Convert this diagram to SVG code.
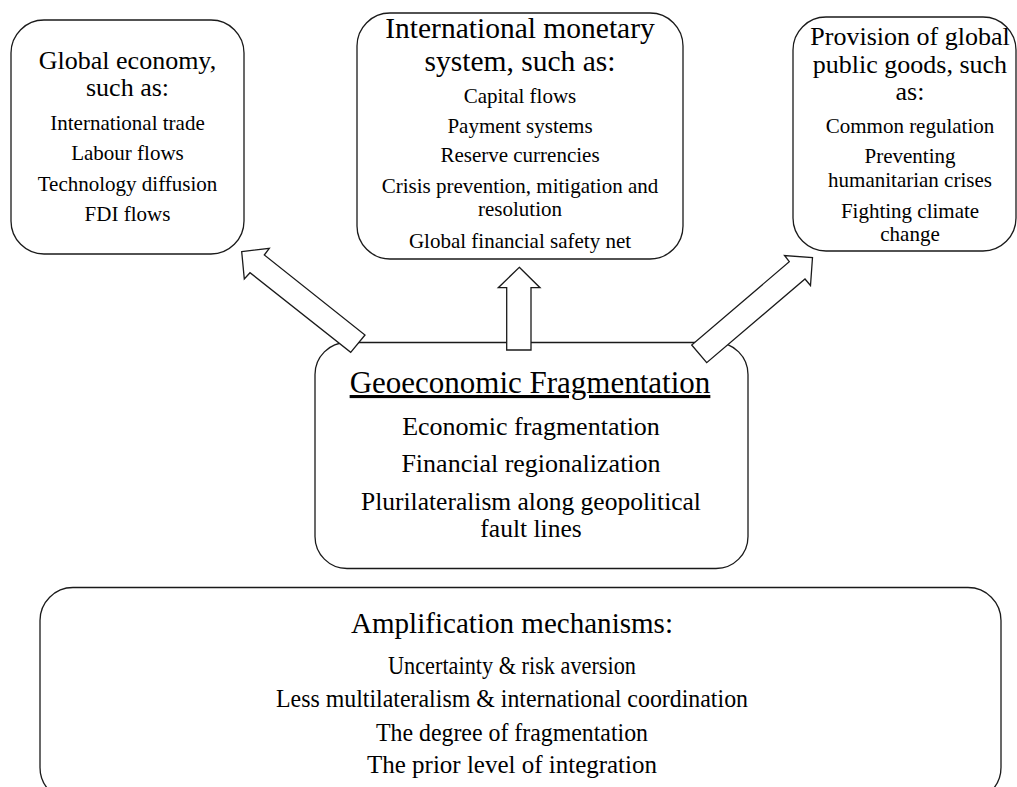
<svg xmlns="http://www.w3.org/2000/svg" width="1017" height="787" viewBox="0 0 1017 787">
<style>
.box{fill:#fff;stroke:#1a1a1a;stroke-width:1.3}
.arr{fill:#fff;stroke:#1a1a1a;stroke-width:1.3;stroke-linejoin:miter}
text{font-family:"Liberation Serif","Times New Roman",serif;fill:#000;text-anchor:middle}
.t1{font-size:26px}
.t2{font-size:29.5px}
.it{font-size:21px}
.ct{font-size:31px;text-decoration:underline}
.ci{font-size:26px}
.cw{font-size:25.5px}
.bt{font-size:29px}
.bi{font-size:25px}
</style>
<rect width="1017" height="787" fill="#fff"/>
<g id="global-economy">
<rect class="box" x="11" y="20" width="233" height="234" rx="33" ry="33"/>
<text class="t1" x="127.5" y="69">Global economy,</text>
<text class="t1" x="127.5" y="95.5">such as:</text>
<text class="it" x="127.5" y="130">International trade</text>
<text class="it" x="127.5" y="160">Labour flows</text>
<text class="it" x="127.5" y="191">Technology diffusion</text>
<text class="it" x="127.5" y="221">FDI flows</text>
</g>
<g id="monetary-system">
<rect class="box" x="357" y="13" width="326" height="246" rx="33" ry="33"/>
<text class="t2" x="520" y="38">International monetary</text>
<text class="t2" x="520" y="71">system, such as:</text>
<text class="it" x="520" y="103">Capital flows</text>
<text class="it" x="520" y="133">Payment systems</text>
<text class="it" x="520" y="162">Reserve currencies</text>
<text class="it" x="520" y="193">Crisis prevention, mitigation and</text>
<text class="it" x="520" y="215.5">resolution</text>
<text class="it" x="520" y="248">Global financial safety net</text>
</g>
<g id="public-goods">
<rect class="box" x="793" y="17" width="223" height="234" rx="33" ry="33"/>
<text class="t1" x="910" y="45">Provision of global</text>
<text class="t1" x="910" y="73">public goods, such</text>
<text class="t1" x="910" y="100">as:</text>
<text class="it" x="910" y="133">Common regulation</text>
<text class="it" x="910" y="163">Preventing</text>
<text class="it" x="910" y="186.5">humanitarian crises</text>
<text class="it" x="910" y="218">Fighting climate</text>
<text class="it" x="910" y="240.5">change</text>
</g>
<g id="fragmentation">
<rect class="box" x="315" y="342.5" width="433" height="226" rx="32" ry="32"/>
<text class="ct" x="530" y="393">Geoeconomic Fragmentation</text>
<text class="ci" x="531" y="435">Economic fragmentation</text>
<text class="ci" x="531" y="472">Financial regionalization</text>
<text class="cw" x="531" y="509.5">Plurilateralism along geopolitical</text>
<text class="cw" x="531" y="536.5">fault lines</text>
</g>
<g id="amplification">
<rect class="box" x="40" y="587.5" width="961" height="213" rx="33" ry="33"/>
<text class="bt" x="512" y="633" textLength="322" lengthAdjust="spacingAndGlyphs">Amplification mechanisms:</text>
<text class="bi" x="512" y="674" textLength="248" lengthAdjust="spacingAndGlyphs">Uncertainty &amp; risk aversion</text>
<text class="bi" x="512" y="707" textLength="472" lengthAdjust="spacingAndGlyphs">Less multilateralism &amp; international coordination</text>
<text class="bi" x="512" y="741" textLength="272" lengthAdjust="spacingAndGlyphs">The degree of fragmentation</text>
<text class="bi" x="512" y="773" textLength="290" lengthAdjust="spacingAndGlyphs">The prior level of integration</text>
</g>
<g id="connectors">
<polygon class="arr" points="241.7,251.7 269.3,248.3 264.3,255 365,335 350.7,352.3 250,272.7 244.3,279"/>
<polygon class="arr" points="519.3,267.3 540,287.7 531,287.7 531,350 506.7,350 506.7,287.7 498.3,287.7"/>
<polygon class="arr" points="812.5,257.5 810.5,285.5 805,279 706.7,362.7 691.7,345 789.3,261.7 784.5,255.5"/>
</g>
</svg>
